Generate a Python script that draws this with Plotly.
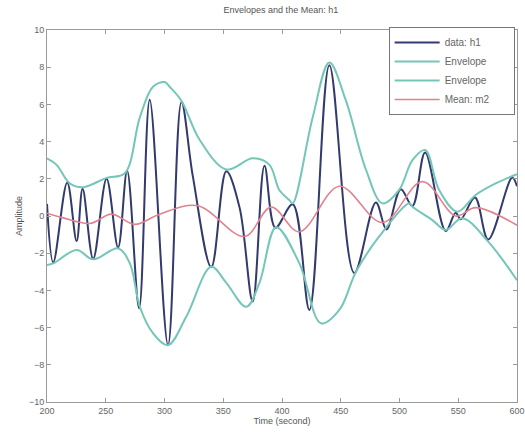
import plotly.graph_objects as go

# data: h1 (extrema and shoulders)
data_t = [200, 205.3, 217.2, 225.2, 230.3, 239.3, 250.7, 260.5, 268.2, 278.4, 287.4,
          303.0, 314.4, 324.2, 339.8, 352.6, 363.9, 375.1, 385.1, 394.4, 409.1, 423.3,
          440.3, 461.5, 479.9, 488.9, 501.1, 511.0, 521.8, 539.3, 547.8, 552.1, 564.2,
          575.5, 595.9, 600]
data_h1 = [0.65, -2.5, 1.8, -1.35, 1.46, -2.3, 2.0, -1.7, 2.43, -4.96, 6.25,
           -6.94, 6.13, 2.1, -2.75, 2.4, 0.45, -4.6, 2.7, -0.63, 0.63, -5.05,
           8.1, -3.06, 0.72, -0.72, 1.44, 0.54, 3.42, -0.81, 0.18, -0.18, 0.99,
           -1.26, 2.07, 1.6]

upper_t = [200, 208.2, 219.5, 230.8, 250.7, 266.2, 279.0, 290.2, 300.2, 304.4, 314.4,
           329.9, 352.6, 375.1, 389.3, 397.7, 406.2, 409.1, 426.1, 440.3, 454.4, 471.4,
           485.5, 499.7, 511.0, 521.8, 533.7, 549.2, 564.8, 581.8, 600]
upper_v = [3.1, 2.75, 1.75, 1.55, 2.05, 2.3, 5.3, 6.95, 7.2, 6.95, 6.2,
           4.1, 2.5, 3.1, 2.75, 1.4, 0.86, 0.68, 5.3, 8.25, 6.2, 2.5,
           0.68, 1.4, 3.0, 3.55, 1.4, 0.23, 1.13, 1.75, 2.25]

lower_t = [200, 205.3, 225.2, 239.3, 260.5, 270.5, 279.0, 290.2, 303.0, 318.6, 339.8,
           352.6, 369.6, 380.8, 395.0, 414.8, 433.2, 448.8, 463.0, 482.7, 508.2, 511.0,
           528.0, 539.3, 553.4, 575.5, 600]
lower_v = [-2.63, -2.55, -1.83, -2.33, -1.74, -2.55, -4.88, -6.3, -6.94, -5.4, -2.73,
           -3.6, -4.88, -3.6, -0.6, -2.55, -5.77, -5.05, -3.0, -1.1, 0.68, 0.5,
           -0.22, -0.75, -0.12, -1.38, -3.45]

mean_t = [200, 213.8, 236.5, 254.9, 274.7, 295.9, 328.4, 368.1, 390.8, 414.8, 448.8,
          485.5, 519.5, 547.8, 564.8, 600]
mean_v = [0.15, -0.1, -0.4, 0.1, -0.45, 0.1, 0.55, -1.1, 0.48, -0.85, 1.6,
          -0.35, 1.85, 0.0, 0.45, -0.5]

x_ticks = [200, 250, 300, 350, 400, 450, 500, 550, 600]
y_ticks = [-10, -8, -6, -4, -2, 0, 2, 4, 6, 8, 10]

pad = "\u00a0" * 7

fig = go.Figure()
fig.add_trace(go.Scatter(x=data_t, y=data_h1, mode="lines", name="data: h1" + pad,
                         line=dict(color="#323a6e", width=2, shape="spline", smoothing=1.0)))
fig.add_trace(go.Scatter(x=upper_t, y=upper_v, mode="lines", name="Envelope" + pad,
                         line=dict(color="#74c6b8", width=2, shape="spline", smoothing=1.0)))
fig.add_trace(go.Scatter(x=lower_t, y=lower_v, mode="lines", name="Envelope" + pad,
                         line=dict(color="#74c6b8", width=2, shape="spline", smoothing=1.0)))
fig.add_trace(go.Scatter(x=mean_t, y=mean_v, mode="lines", name="Mean: m2" + pad,
                         line=dict(color="#e0838f", width=1.6, shape="spline", smoothing=1.0)))

axis_common = dict(showgrid=False, zeroline=False, showline=True, linecolor="#9a9a9a",
                   linewidth=1, mirror="ticks", ticks="inside", ticklen=4,
                   tickcolor="#9a9a9a", automargin=False,
                   tickfont=dict(family="Liberation Sans", size=9, color="#666666"))

fig.update_layout(
    width=525, height=438,
    margin=dict(l=47, r=8, t=30, b=36),
    paper_bgcolor="white", plot_bgcolor="white",
    title=dict(text="Envelopes and the Mean: h1", x=0.535, xanchor="center", y=0.985, yanchor="top",
               font=dict(family="Liberation Sans", size=9, color="#555555")),
    xaxis=dict(range=[200, 600], tickvals=x_ticks,
               title=dict(text="Time (second)", standoff=2,
                          font=dict(family="Liberation Sans", size=9, color="#555555")),
               **axis_common),
    yaxis=dict(range=[-10, 10], tickvals=y_ticks,
               title=dict(text="Amplitude", standoff=4,
                          font=dict(family="Liberation Sans", size=9, color="#555555")),
               **axis_common),
    legend=dict(x=0.995, y=1.008, xanchor="right", yanchor="top",
                bgcolor="white", bordercolor="#777777", borderwidth=1,
                font=dict(family="Liberation Sans", size=10, color="#666666"),
                itemwidth=45, tracegroupgap=2),
    showlegend=True,
)

fig.write_html("out.html", config={"displayModeBar": False},
               post_script="document.body.style.margin='0';")
